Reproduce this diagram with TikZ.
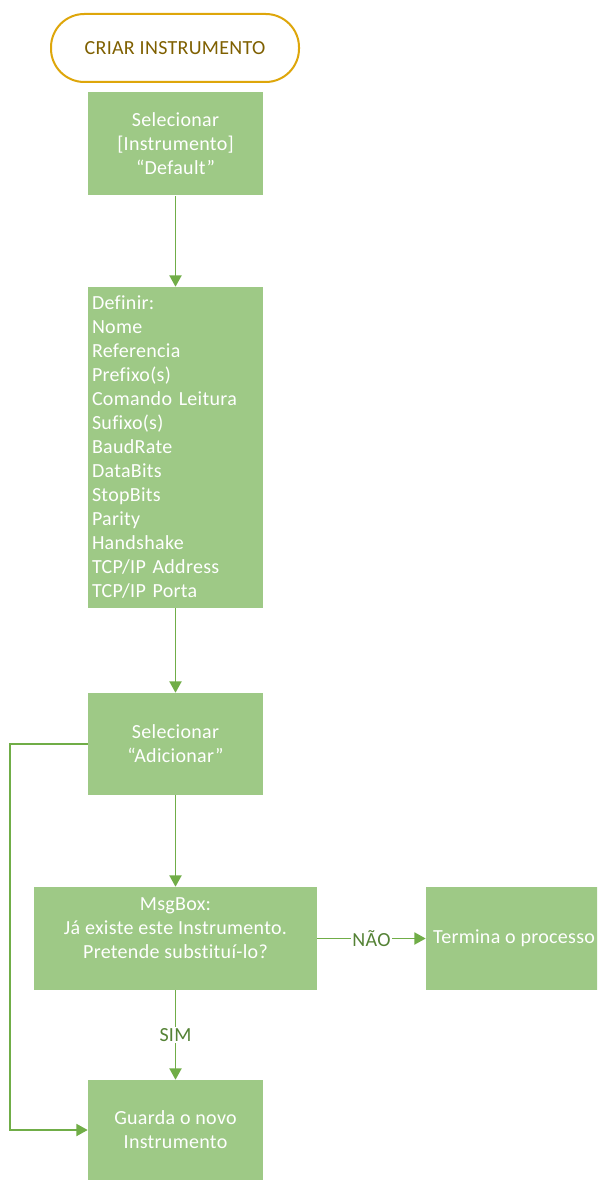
\documentclass[tikz,border=0pt]{standalone}
\usepackage{fontspec}
\setmainfont{Carlito}[Ligatures=NoCommon, LetterSpace=1.5]
\usepackage{tikz}
\usetikzlibrary{
  arrows.meta,
}

\definecolor{boxgreen}{RGB}{158,201,134}
\definecolor{linegreen}{RGB}{112,173,71}
\definecolor{labelgreen}{RGB}{84,130,53}
\definecolor{termgold}{RGB}{222,166,10}
\definecolor{termtext}{RGB}{127,96,0}

\begin{document}
\begin{tikzpicture}[
  x = 0.75pt,
  y = -0.75pt,
  font = \fontsize{15}{18}\selectfont,
  terminal/.style={
    draw = termgold,
    line width = 1.5pt,
    fill = white,
    rounded corners = 25pt,
    minimum width = 186pt,
    minimum height = 51pt,
    text = termtext,
  },
  process/.style={
    fill = boxgreen,
    text = white,
    align = center,
    minimum width = 131.25pt,
    inner sep = 3pt,
  },
  link/.style={
    draw = linegreen,
    line width = 1.4pt,
    -{Triangle[length=8.5pt, width=9pt]},
  },
  choice/.style={
    fill = white,
    text = labelgreen,
    inner sep = 1pt,
  },
  ]
  \useasboundingbox (0,0) rectangle (597,1180);
  \clip (0,0) rectangle (597,1180);

  \node [terminal, name=node-start] at (175,48) {CRIAR INSTRUMENTO};
  \node [process, name=node-default, minimum height=77.25pt] at (175.5,144)
  {Selecionar\\{[Instrumento]}\\“Default”};
  \node [process, name=node-define, minimum height=240.75pt,
    text width=125.25pt, align=left] at (175.5,447.5)
  {Definir:\\Nome\\Referencia\\Prefixo(s)\\Comando Leitura\\Sufixo(s)\\
    BaudRate\\DataBits\\StopBits\\Parity\\Handshake\\TCP/IP Address\\
    TCP/IP Porta};
  \node [process, name=node-add, minimum height=76.5pt] at (175.5,744)
  {Selecionar\\“Adicionar”};
  \node [process, name=node-ask, minimum width=212.25pt,
    minimum height=77.25pt] at (175.5,938.5)
  {MsgBox:\\Já existe este Instrumento.\\
    Pretende substituí-lo?\rule[-16pt]{0pt}{16pt}};
  \node [process, name=node-end, minimum width=132pt,
    minimum height=77.25pt] at (514,938.5) {Termina o processo};
  \node [process, name=node-save, minimum height=75pt] at (175.5,1130)
  {Guarda o novo\\Instrumento};
  \coordinate (node-bypass) at (10,744);

  \draw [link] (node-default) -- (node-define);
  \draw [link] (node-define) -- (node-add);
  \draw [link] (node-add) -- (node-ask);
  \draw [link] (node-ask) -- node [choice] {NÃO} (node-end);
  \draw [link] (node-ask) -- node [choice] {SIM} (node-save);
  \draw [link] (node-add.west) -- (node-bypass) |- (node-save.west);
\end{tikzpicture}
\end{document}
